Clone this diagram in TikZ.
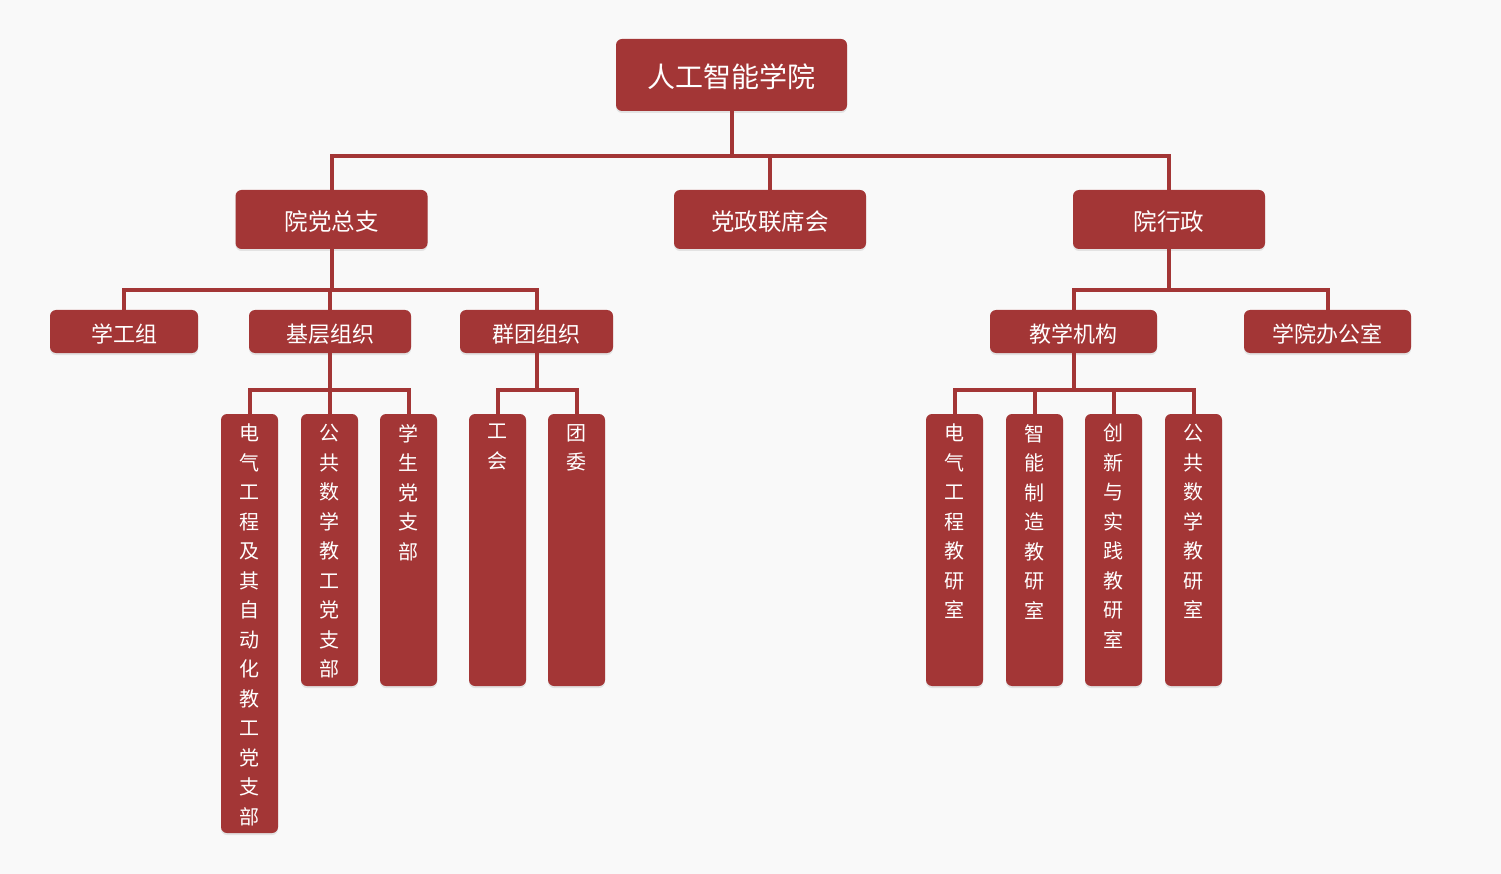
\documentclass[tikz,border=0pt]{standalone}
\usepackage{fontspec}
\newfontfamily\cjk{Noto Sans CJK SC}
\usetikzlibrary{shadows}
\definecolor{dred}{HTML}{A33636}
\definecolor{bgc}{HTML}{F9F9F9}
\begin{document}
\begin{tikzpicture}[x=1pt,y=-1pt,
  box/.style={fill=dred, rounded corners=6pt, inner sep=0pt, text=white,
    drop shadow={shadow xshift=0pt,shadow yshift=-2pt,opacity=0.18}},
  rootbox/.style={box, minimum width=231pt, minimum height=72pt, font=\cjk\fontsize{28}{30}\selectfont, text height=24.4pt, text depth=0pt},
  midbox/.style={box, minimum width=192pt, minimum height=59pt, font=\cjk\fontsize{23.5}{26}\selectfont, text height=22.2pt, text depth=0pt},
  smallbox/.style={box, minimum height=43pt, font=\cjk\fontsize{22}{24}\selectfont, text height=21.4pt, text depth=0pt},
  colbox/.style={box, minimum width=57pt},
  vtext/.style={text=white, font=\cjk\fontsize{20}{29.5}\selectfont, align=center, inner sep=0pt, anchor=north},
  link/.style={draw=dred, line width=4pt}
]
\path[use as bounding box, fill=bgc] (0,0) rectangle (1501,874);

% level 1 and 2
\node[rootbox] (root) at (731.5,75) {人工智能学院};
\node[midbox] (yd) at (331.5,219.5) {院党总支};
\node[midbox] (dz) at (770,219.5) {党政联席会};
\node[midbox] (yx) at (1169,219.5) {院行政};

% level 3
\node[smallbox, minimum width=148pt] (xg) at (124,331.5) {学工组};
\node[smallbox, minimum width=162pt] (jc) at (330,331.5) {基层组织};
\node[smallbox, minimum width=153pt] (qt) at (536.5,331.5) {群团组织};
\node[smallbox, minimum width=167pt] (jx) at (1073.5,331.5) {教学机构};
\node[smallbox, minimum width=167pt] (bg) at (1327.5,331.5) {学院办公室};

% level 4 boxes
\node[colbox, minimum height=419pt] (b1) at (249.5,623.5) {};
\node[colbox, minimum height=272pt] (b2) at (329.5,550) {};
\node[colbox, minimum height=272pt] (b3) at (408.5,550) {};
\node[colbox, minimum height=272pt] (b4) at (497.5,550) {};
\node[colbox, minimum height=272pt] (b5) at (576.5,550) {};
\node[colbox, minimum height=272pt] (c1) at (954.5,550) {};
\node[colbox, minimum height=272pt] (c2) at (1034.5,550) {};
\node[colbox, minimum height=272pt] (c3) at (1113.5,550) {};
\node[colbox, minimum height=272pt] (c4) at (1193.5,550) {};

% level 4 texts
\node[vtext] (b1t) at (b1.north |- 0,424) {电\\气\\工\\程\\及\\其\\自\\动\\化\\教\\工\\党\\支\\部};
\node[vtext] (b2t) at (b2.north |- 0,424) {公\\共\\数\\学\\教\\工\\党\\支\\部};
\node[vtext] (b3t) at (b3.north |- 0,424) {学\\生\\党\\支\\部};
\node[vtext] (b4t) at (b4.north |- 0,424) {工\\会};
\node[vtext] (b5t) at (b5.north |- 0,424) {团\\委};
\node[vtext] (c1t) at (c1.north |- 0,424) {电\\气\\工\\程\\教\\研\\室};
\node[vtext] (c2t) at (c2.north |- 0,424) {智\\能\\制\\造\\教\\研\\室};
\node[vtext] (c3t) at (c3.north |- 0,424) {创\\新\\与\\实\\践\\教\\研\\室};
\node[vtext] (c4t) at (c4.north |- 0,424) {公\\共\\数\\学\\教\\研\\室};

% connectors level 1 -> 2
\coordinate (j1) at (731.5,156);
\draw[link] (root.south) -- (j1);
\draw[link] (yd.north) -- ++(0,-34) -| (yx.north);
\draw[link] (dz.north) -- (dz.north |- j1);

% level 2 -> 3
\draw[link] (yd.south) -- ++(0,41);
\draw[link] (xg.north) -- ++(0,-20) -| (qt.north);
\draw[link] (jc.north) -- ++(0,-20);
\draw[link] (yx.south) -- ++(0,41);
\draw[link] (jx.north) -- ++(0,-20) -| (bg.north);

% level 3 -> 4
\draw[link] (jc.south) -- ++(0,37);
\draw[link] (b1.north) -- ++(0,-24) -| (b3.north);
\draw[link] (b2.north) -- ++(0,-24);
\draw[link] (qt.south) -- ++(0,37);
\draw[link] (b4.north) -- ++(0,-24) -| (b5.north);
\draw[link] (jx.south) -- ++(0,37);
\draw[link] (c1.north) -- ++(0,-24) -| (c4.north);
\draw[link] (c2.north) -- ++(0,-24);
\draw[link] (c3.north) -- ++(0,-24);
\end{tikzpicture}
\end{document}
